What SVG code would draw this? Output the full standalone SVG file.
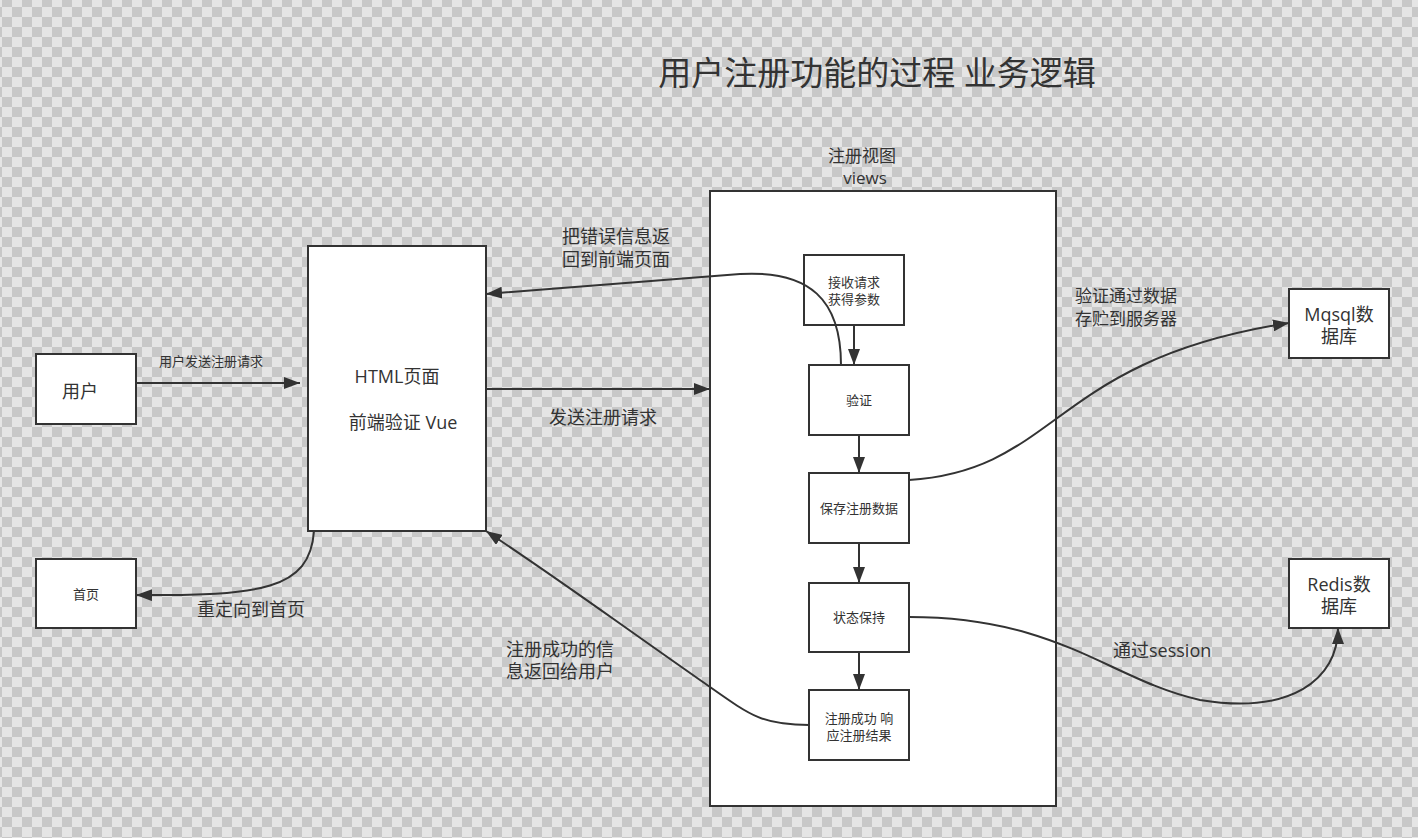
<svg xmlns="http://www.w3.org/2000/svg" width="1418" height="838" viewBox="0 0 1418 838">
<defs>
<pattern id="checker" x="2" y="-3" width="20" height="20" patternUnits="userSpaceOnUse">
<rect width="20" height="20" fill="#e5e5e5"/>
<rect x="0" y="0" width="10" height="10" fill="#c8c8c8"/>
<rect x="10" y="10" width="10" height="10" fill="#c8c8c8"/>
</pattern>
<marker id="arrL" viewBox="0 0 16 12" refX="16" refY="6" markerWidth="16" markerHeight="12" markerUnits="userSpaceOnUse" orient="auto">
<path d="M0,0 L16,6 L0,12 Z" fill="#333"/>
</marker>
</defs>
<style>
.box{fill:#fff;stroke:#333;stroke-width:2}
.t{font-family:"Open Sans","Noto Sans CJK SC",sans-serif;fill:#333;text-anchor:middle}
.s13{font-size:13px}
.s18{font-size:18px}
.lbl{font-family:"Open Sans","Noto Sans CJK SC",sans-serif;fill:#333;font-size:18px}
.c{fill:none;stroke:#333;stroke-width:2;marker-end:url(#arrL)}
</style>
<rect width="1418" height="838" fill="url(#checker)"/>
<text class="t" x="877" y="85" style="font-size:33px">用户注册功能的过程 业务逻辑</text>

<g id="views">
<rect class="box" x="710" y="191" width="346" height="615"/>
<text class="t" x="862" y="162" style="font-size:17px">注册视图</text>
<text class="t" x="865" y="184" style="font-size:17px">views</text>
</g>
<g id="receive">
<rect class="box" x="804" y="255" width="100" height="70"/>
<text class="t s13" x="854" y="287">接收请求</text>
<text class="t s13" x="854" y="304">获得参数</text>
</g>
<g id="verify">
<rect class="box" x="809" y="365" width="100" height="70"/>
<text class="t s13" x="859" y="405">验证</text>
</g>
<g id="save">
<rect class="box" x="809" y="473" width="100" height="70"/>
<text class="t s13" x="859" y="513">保存注册数据</text>
</g>
<g id="state">
<rect class="box" x="809" y="583" width="100" height="69"/>
<text class="t s13" x="859" y="622">状态保持</text>
</g>
<g id="success">
<rect class="box" x="809" y="690" width="100" height="70"/>
<text class="t s13" x="859" y="723">注册成功 响</text>
<text class="t s13" x="859" y="740">应注册结果</text>
</g>
<g id="html">
<rect class="box" x="308" y="246" width="178" height="285"/>
<text class="t s18" x="397" y="383">HTML页面</text>
<text class="t s18" x="403" y="429">前端验证 Vue</text>
</g>
<g id="user">
<rect class="box" x="36" y="354" width="100" height="70"/>
<text class="t s18" x="80" y="398">用户</text>
</g>
<g id="home">
<rect class="box" x="36" y="559" width="100" height="69"/>
<text class="t s13" x="86" y="599">首页</text>
</g>
<g id="mysql">
<rect class="box" x="1289" y="289" width="100" height="69"/>
<text class="t s18" x="1339" y="321">Mqsql数</text>
<text class="t s18" x="1339" y="343">据库</text>
</g>
<g id="redis">
<rect class="box" x="1289" y="559" width="100" height="69"/>
<text class="t s18" x="1339" y="591">Redis数</text>
<text class="t s18" x="1339" y="613">据库</text>
</g>

<g id="connectors">
<path class="c" d="M136,383 L300,383"/>
<path class="c" d="M486,389 L710,389"/>
<path class="c" d="M854,325 L854,365"/>
<path class="c" d="M859,435 L859,473"/>
<path class="c" d="M859,543 L859,583"/>
<path class="c" d="M859,652 L859,690"/>
<path class="c" d="M841,365 C841,300 810,270 740,274 L486,294"/>
<path class="c" d="M909,480 C1060,470 1050,360 1289,323"/>
<path class="c" d="M909,617 C1060,617 1110,680 1200,700 C1290,715 1338,680 1338,628"/>
<path class="c" d="M809,725 C760,725 750,715 700,680 C600,610 560,580 486,531"/>
<path class="c" d="M314,531 C310,590 260,596 136,595"/>
</g>
<g id="labels">
<text class="t s13" x="211" y="366">用户发送注册请求</text>
<text class="lbl" x="549" y="424">发送注册请求</text>
<text class="lbl" x="562" y="243">把错误信息返</text>
<text class="lbl" x="562" y="266">回到前端页面</text>
<text class="lbl" x="1075" y="302" style="font-size:17px">验证通过数据</text>
<text class="lbl" x="1075" y="325" style="font-size:17px">存贮到服务器</text>
<text class="lbl" x="1113" y="657">通过session</text>
<text class="lbl" x="506" y="656">注册成功的信</text>
<text class="lbl" x="506" y="678">息返回给用户</text>
<text class="lbl" x="197" y="616">重定向到首页</text>
</g>
</svg>
